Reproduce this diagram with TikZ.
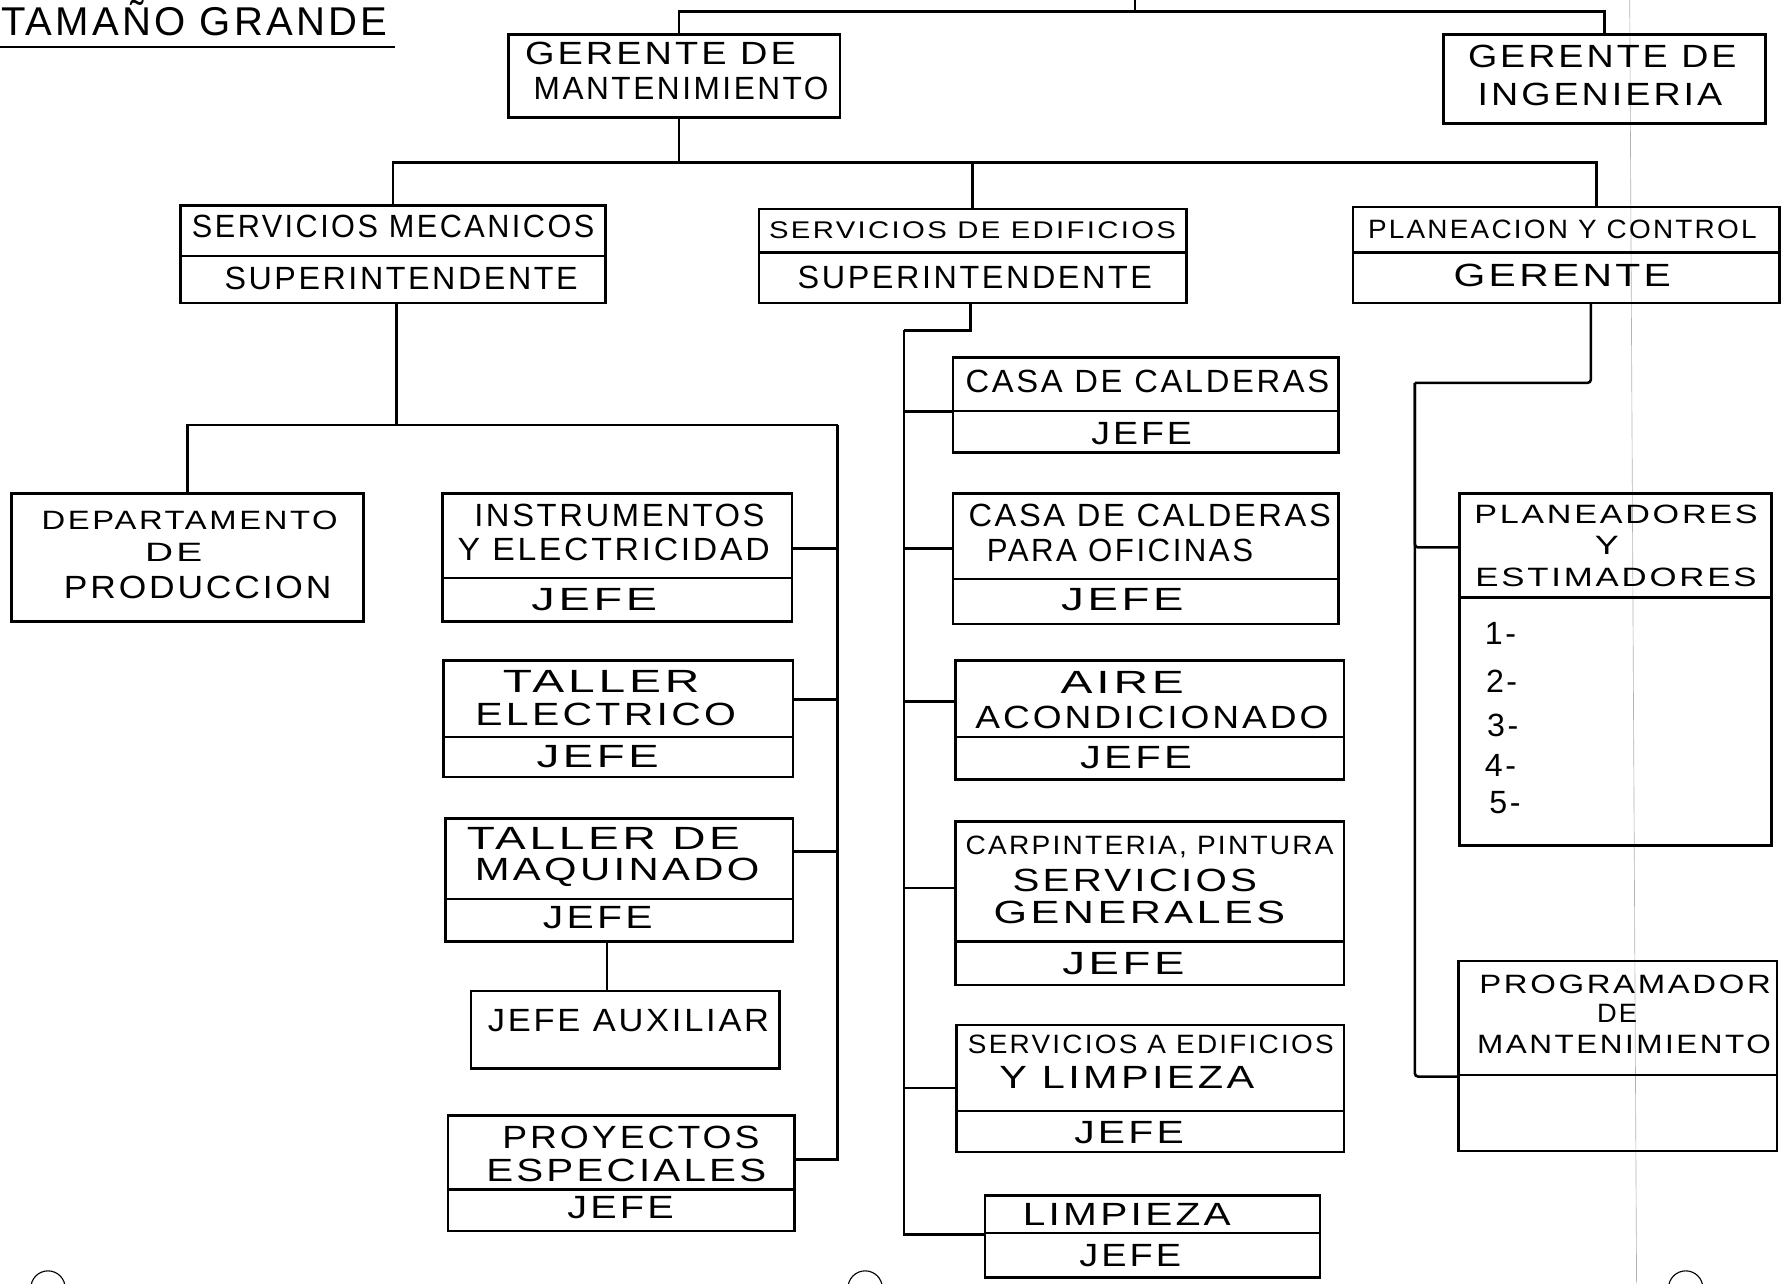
\documentclass[tikz,border=0pt]{standalone}
\usepackage{fontspec}
\setmainfont{Liberation Sans}[LetterSpace=8]
\usepackage{graphicx}
\usetikzlibrary{fit,calc}
\newdimen\pxu \pxu=0.025cm
\newcommand{\hw}[2]{\resizebox{#1\pxu}{\height}{#2}}
\begin{document}
\begin{tikzpicture}[x=0.025cm,y=-0.025cm,
  box/.style={draw,line width=1.6pt,inner sep=0pt},
  link/.style={line width=1.6pt},
  divider/.style={line width=1.4pt},
  txt/.style={inner sep=0pt,font=\fontsize{20}{24}\selectfont},
  small/.style={font=\fontsize{16.5}{19}\selectfont},
  tiny/.style={font=\fontsize{15}{18}\selectfont},
  scan/.style={gray!60,line width=0.4pt}]
\useasboundingbox (0,0) rectangle (1568,1123);

% scanning artefacts
\draw[scan] (1426,0) -- (1432,1123);
\draw[line width=0.7pt] (42,1127) circle[radius=0.375cm];
\draw[line width=0.7pt] (757,1127) circle[radius=0.375cm];
\draw[line width=0.7pt] (1475,1127) circle[radius=0.375cm];

% title
\node[txt,font=\fontsize{25}{30}\selectfont] (title) at (170,16) {\hw{338}{TAMAÑO GRANDE}};
\draw[line width=1.2pt] ($(title.south west)+(-3,9)$) -- ($(title.south east)+(6,9)$);

% ---------- boxes ----------
\node[box,fit={(445,30) (735,103)}] (gm) {};
\node[box,fit={(1263,30) (1545,108)}] (gi) {};

\node[box,fit={(158,180) (530,265)}] (sm) {};
\node[box,fit={(664,183) (1038,265)}] (se) {};
\node[box,fit={(1184,181) (1557,265)}] (pc) {};

\node[box,fit={(10,432) (318,544)}] (dp) {};
\node[box,fit={(387,432) (693,544)}] (ie) {};
\node[box,fit={(388,578) (694,680)}] (te) {};
\node[box,fit={(390,716) (694,824)}] (tm) {};
\node[box,fit={(412,867) (682,935)}] (ja) {};
\node[box,fit={(392,976) (695,1077)}] (pe) {};

\node[box,fit={(834,313) (1171,396)}] (cc) {};
\node[box,fit={(834,432) (1171,546)}] (co) {};
\node[box,fit={(836,578) (1176,682)}] (aa) {};
\node[box,fit={(836,719) (1176,862)}] (cp) {};
\node[box,fit={(837,897) (1176,1008)}] (sa) {};
\node[box,fit={(862,1046) (1155,1118)}] (li) {};

\node[box,fit={(1277,432) (1550,740)}] (pl) {};
\node[box,fit={(1276,841) (1555,1007)}] (pm) {};

% dividers
\foreach \b/\d in {sm/45,se/39,pc/41,ie/75,te/68,tm/72,pe/66,cc/48,co/76,aa/68,cp/106,sa/76,li/34,pl/92,pm/101}
  \draw[divider] ($(\b.north west)+(0,\d)$) -- ($(\b.north east)+(0,\d)$);

% ---------- texts ----------
\node[txt] (gm1) at (578,47) {\hw{237}{GERENTE DE}};
\node[txt] (gm2) at (596,77) {\hw{258}{MANTENIMIENTO}};
\node[txt] (gi1) at (1402,49) {\hw{235}{GERENTE DE}};
\node[txt] (gi2) at (1400,83) {\hw{214}{INGENIERIA}};

\node[txt] (sm1) at (344,198) {\hw{352}{SERVICIOS MECANICOS}};
\node[txt] (sm2) at (351,244) {\hw{309}{SUPERINTENDENTE}};
\node[txt,tiny] (se1) at (851,201) {\hw{356}{SERVICIOS DE EDIFICIOS}};
\node[txt] (se2) at (853,243) {\hw{310}{SUPERINTENDENTE}};
\node[txt,small] (pc1) at (1367,201) {\hw{340}{PLANEACION Y CONTROL}};
\node[txt] (pc2) at (1367,241) {\hw{190}{GERENTE}};

\node[txt,small] (dp1) at (166,455) {\hw{259}{DEPARTAMENTO}};
\node[txt,small] (dp2) at (152,483) {\hw{50}{DE}};
\node[txt] (dp3) at (173,514) {\hw{234}{PRODUCCION}};

\node[txt] (ie1) at (542,451) {\hw{254}{INSTRUMENTOS}};
\node[txt] (ie2) at (537,481) {\hw{273}{Y ELECTRICIDAD}};
\node[txt] (ie3) at (520,525) {\hw{110}{JEFE}};

\node[txt] (te1) at (526,596) {\hw{172}{TALLER}};
\node[txt] (te2) at (530,625) {\hw{228}{ELECTRICO}};
\node[txt] (te3) at (523,662) {\hw{107}{JEFE}};

\node[txt] (tm1) at (528,734) {\hw{239}{TALLER DE}};
\node[txt] (tm2) at (540,763) {\hw{249}{MAQUINADO}};
\node[txt] (tm3) at (523,803) {\hw{96}{JEFE}};

\node[txt] (ja1) at (550,893) {\hw{246}{JEFE AUXILIAR}};

\node[txt] (pe1) at (552,995) {\hw{225}{PROYECTOS}};
\node[txt] (pe2) at (548,1024) {\hw{245}{ESPECIALES}};
\node[txt] (pe3) at (543,1057) {\hw{93}{JEFE}};

\node[txt] (cc1) at (1004,334) {\hw{318}{CASA DE CALDERAS}};
\node[txt] (cc2) at (999,379) {\hw{88}{JEFE}};

\node[txt] (co1) at (1006,451) {\hw{317}{CASA DE CALDERAS}};
\node[txt] (co2) at (980,482) {\hw{233}{PARA OFICINAS}};
\node[txt] (co3) at (982,525) {\hw{107}{JEFE}};

\node[txt] (aa1) at (982,597) {\hw{108}{AIRE}};
\node[txt] (aa2) at (1008,628) {\hw{309}{ACONDICIONADO}};
\node[txt] (aa3) at (994,663) {\hw{98}{JEFE}};

\node[txt,small] (cp1) at (1006,741) {\hw{322}{CARPINTERIA, PINTURA}};
\node[txt] (cp2) at (993,770) {\hw{214}{SERVICIOS}};
\node[txt] (cp3) at (997,798) {\hw{255}{GENERALES}};
\node[txt] (cp4) at (983,843) {\hw{107}{JEFE}};

\node[txt,small] (sa1) at (1007,914) {\hw{320}{SERVICIOS A EDIFICIOS}};
\node[txt] (sa2) at (986,943) {\hw{223}{Y LIMPIEZA}};
\node[txt] (sa3) at (988,991) {\hw{96}{JEFE}};

\node[txt] (li1) at (986,1063) {\hw{182}{LIMPIEZA}};
\node[txt] (li2) at (989,1099) {\hw{89}{JEFE}};

\node[txt,small] (pl1) at (1414,450) {\hw{248}{PLANEADORES}};
\node[txt,small] (pl2) at (1406,477) {\hw{21}{Y}};
\node[txt,small] (pl3) at (1414,505) {\hw{246}{ESTIMADORES}};
\node[txt,anchor=west] (pl4) at (1299,554) {1-};
\node[txt,anchor=west] (pl5) at (1300,596) {2-};
\node[txt,anchor=west] (pl6) at (1301,635) {3-};
\node[txt,anchor=west] (pl7) at (1299,670) {4-};
\node[txt,anchor=west] (pl8) at (1303,702) {5-};

\node[txt,small] (pm1) at (1422,861) {\hw{255}{PROGRAMADOR}};
\node[txt,small] (pm2) at (1415,887) {\hw{35}{DE}};
\node[txt,small] (pm3) at (1421,914) {\hw{257}{MANTENIMIENTO}};

% ---------- connectors ----------
\coordinate (topin) at (993,0);
\coordinate (topbar) at (993,10);
\coordinate (mbar) at (594,142);
\coordinate (smbar) at (347,372);
\coordinate (smrail) at (733,372);
\coordinate (serail) at (791,289);
\coordinate (pcrail) at (1238,335);

\draw[link] (topin) -- (topbar);
\draw[link] ($(gm.north)+(4,0)$) |- (topbar);
\draw[link] (gi.north) |- (topbar);

\draw[link] ($(gm.south)+(4,0)$) -- (mbar);
\draw[link] (sm.north) |- (mbar);
\draw[link] (se.north) |- (mbar);
\draw[link] ($(pc.north)+(26.5,0)$) |- (mbar);

% servicios mecanicos
\draw[link] ($(sm.south)+(3,0)$) -- (smbar);
\draw[link] (dp.north) |- (smrail);
\draw[link] ($(ie.east)+(0,-8)$) -| (smrail);
\draw[link] ($(te.east)+(0,-17)$) -| (smrail);
\draw[link] ($(tm.east)+(0,-25)$) -| (smrail);
\draw[link] ($(pe.east)+(0,-12)$) -| (smrail);
\draw[link] ($(tm.south)+(-11,0)$) -- ($(ja.north)+(-16,0)$);

% servicios de edificios
\draw[link] ($(se.south)+(-2,0)$) |- (serail);
\draw[link] ($(cc.west)+(0,5.5)$) -| (serail);
\draw[link] ($(co.west)+(0,-9)$) -| (serail);
\draw[link] ($(aa.west)+(0,-16)$) -| (serail);
\draw[link] ($(cp.west)+(0,-13.5)$) -| (serail);
\draw[link] ($(sa.west)+(0,-0.5)$) -| (serail);
\draw[link] ($(li.west)+(0,-2)$) -| (serail);

% planeacion y control
\draw[link,rounded corners=2pt] ($(pc.south)+(21.5,0)$) |- (pcrail);
\draw[link,rounded corners=2pt] ($(pl.west)+(0,-107)$) -| (pcrail);
\draw[link,rounded corners=2pt] ($(pm.west)+(0,18)$) -| (pcrail);
\end{tikzpicture}
\end{document}
